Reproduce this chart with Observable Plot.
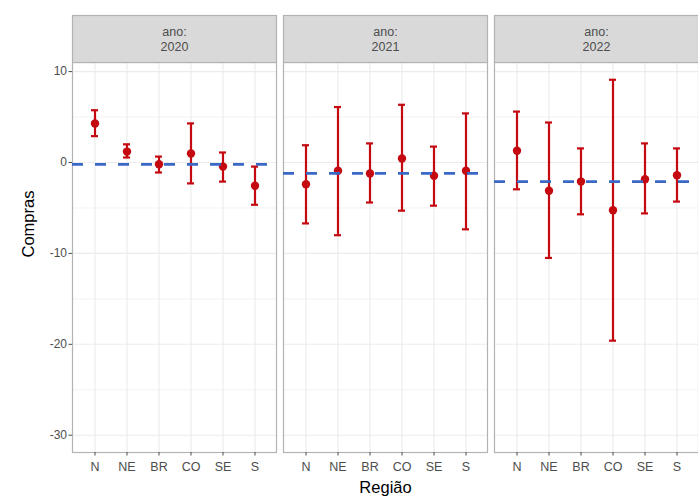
<!DOCTYPE html>
<html>
<head>
<meta charset="utf-8">
<script src="https://cdn.jsdelivr.net/npm/d3@7"></script>
<script src="https://cdn.jsdelivr.net/npm/@observablehq/plot@0.6"></script>
<style>
  html, body { margin: 0; padding: 0; background: white; overflow: hidden; }
  #chart { width: 698px; height: 499px; overflow: hidden; }
  #chart svg { max-width: none !important; }
</style>
</head>
<body>
<div id="chart"></div>
<script>
const regioes = ["N", "NE", "BR", "CO", "SE", "S"];
const anos = ["2020", "2021", "2022"];
const estimativa2020 = [4.3, 1.2, -0.2, 1.0, -0.45, -2.55];
const inferior2020 = [2.9, 0.55, -1.1, -2.3, -2.1, -4.65];
const superior2020 = [5.75, 2.0, 0.65, 4.3, 1.1, -0.45];
const estimativa2021 = [-2.4, -0.9, -1.2, 0.45, -1.45, -0.9];
const inferior2021 = [-6.7, -8.0, -4.4, -5.3, -4.75, -7.35];
const superior2021 = [1.9, 6.1, 2.1, 6.35, 1.75, 5.4];
const estimativa2022 = [1.3, -3.1, -2.1, -5.25, -1.85, -1.4];
const inferior2022 = [-2.95, -10.5, -5.7, -19.6, -5.6, -4.3];
const superior2022 = [5.6, 4.4, 1.55, 9.1, 2.1, 1.55];
const mediaAno = [-0.2, -1.2, -2.1];
const yTicks = [10, 0, -10, -20, -30];
const yMinor = [5, -5, -15, -25];

const est = [estimativa2020, estimativa2021, estimativa2022];
const inf = [inferior2020, inferior2021, inferior2022];
const sup = [superior2020, superior2021, superior2022];

const dados = anos.flatMap((ano, i) => regioes.map((regiao, j) => ({
  ano, regiao, est: est[i][j], lo: inf[i][j], hi: sup[i][j]
})));
const medias = anos.map((ano, i) => ({ano, valor: mediaAno[i]}));

const vermelho = "#c40a10";
const azul = "#3a68c6";
const grid = "#ebebeb";

const chart = Plot.plot({
  width: 700,
  height: 499,
  marginLeft: 71,
  marginRight: 0,
  marginTop: 62,
  marginBottom: 47,
  style: {fontFamily: "'Liberation Sans', Arial, sans-serif", fontSize: "12px", color: "#4d4d4d", background: "white", maxWidth: "none"},
  fx: {domain: anos, paddingInner: 0.033, paddingOuter: 0, axis: null, label: null},
  x: {domain: regioes, type: "band", paddingInner: 0.79, paddingOuter: 0.495, axis: null},
  y: {domain: [-31.9, 11.0], axis: null},
  marks: [
    Plot.gridY(yMinor, {stroke: grid, strokeOpacity: 1, strokeWidth: 0.6}),
    Plot.gridY(yTicks, {stroke: grid, strokeOpacity: 1, strokeWidth: 1.1}),
    Plot.gridX(regioes, {stroke: grid, strokeOpacity: 1, strokeWidth: 1.1}),
    Plot.frame({stroke: "#b3b3b3", strokeWidth: 1.2}),
    Plot.frame({fill: "#d9d9d9", stroke: "#b3b3b3", strokeWidth: 1.2, insetTop: -47, insetBottom: 390}),
    Plot.text(anos, {fx: d => d, text: d => `ano:\n${d}`, frameAnchor: "top", dy: -24, lineAnchor: "middle", fill: "#4d4d4d", fontSize: 12.5, lineHeight: 1.25}),
    Plot.axisY(yTicks, {anchor: "left", tickSize: 3.5, tickPadding: 2, stroke: "#4d4d4d", fill: "#4d4d4d", fontSize: 12, label: null, tickFormat: d => String(d)}),
    Plot.axisX(regioes, {anchor: "bottom", tickSize: 3.5, tickPadding: 6, stroke: "#4d4d4d", fill: "#4d4d4d", fontSize: 12.5, label: null}),
    Plot.text(["Região"], {facet: "super", frameAnchor: "bottom", dy: 40, fill: "black", fontSize: 16.5}),
    Plot.text(["Compras"], {facet: "super", frameAnchor: "left", dx: -44, rotate: -90, fill: "black", fontSize: 16.5}),
    Plot.ruleX(dados, {fx: "ano", x: "regiao", y1: "lo", y2: "hi", stroke: vermelho, strokeWidth: 2.2}),
    Plot.tickY(dados, {fx: "ano", x: "regiao", y: "lo", stroke: vermelho, strokeWidth: 2.2}),
    Plot.tickY(dados, {fx: "ano", x: "regiao", y: "hi", stroke: vermelho, strokeWidth: 2.2}),
    Plot.dot(dados, {fx: "ano", x: "regiao", y: "est", r: 4.2, fill: vermelho, stroke: null}),
    Plot.ruleY(medias, {fx: "ano", y: "valor", stroke: azul, strokeWidth: 2.8, strokeDasharray: "11,12"})
  ]
});
document.getElementById("chart").appendChild(chart);
</script>
</body>
</html>
